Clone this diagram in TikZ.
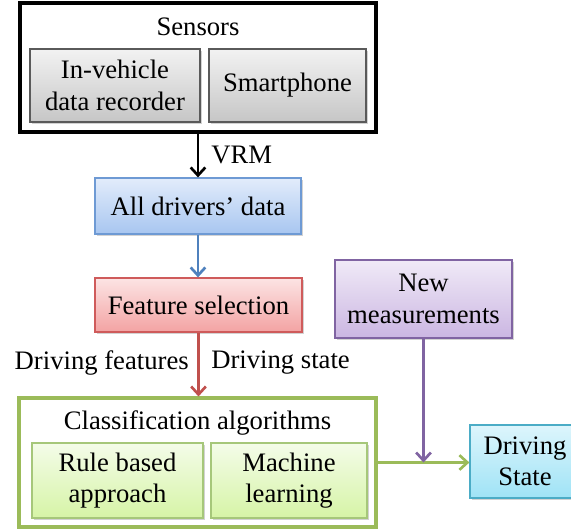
\documentclass[tikz,border=0pt]{standalone}
\usepackage{fontspec}
\setmainfont{Liberation Serif}
\usetikzlibrary{arrows.meta,shadows,calc}
\definecolor{grayT}{HTML}{F2F2F2}
\definecolor{grayB}{HTML}{C6C6C6}
\definecolor{grayD}{HTML}{5A5A5A}
\definecolor{blueT}{HTML}{E2ECFB}
\definecolor{blueB}{HTML}{A8C6F0}
\definecolor{blueD}{HTML}{6E9AD4}
\definecolor{blueA}{HTML}{4F81BD}
\definecolor{redT}{HTML}{FCE4E4}
\definecolor{redB}{HTML}{F3A3A3}
\definecolor{redD}{HTML}{CF5B5B}
\definecolor{redA}{HTML}{C0504D}
\definecolor{grnT}{HTML}{F4FCE9}
\definecolor{grnB}{HTML}{D6F4A6}
\definecolor{grnD}{HTML}{A6C77A}
\definecolor{grnA}{HTML}{9BBB59}
\definecolor{purT}{HTML}{F0EAF7}
\definecolor{purB}{HTML}{CBB6E2}
\definecolor{purA}{HTML}{8064A2}
\definecolor{cyaT}{HTML}{DDF5FC}
\definecolor{cyaB}{HTML}{9FE3F6}
\definecolor{cyaD}{HTML}{4BACC6}
\begin{document}
\begin{tikzpicture}[x=0.75pt,y=-0.75pt,
  every node/.style={font=\fontsize{20pt}{23.5pt}\selectfont, align=center},
  box/.style={rectangle, inner sep=0pt, line width=0.9pt,
    drop shadow={shadow xshift=1.2pt, shadow yshift=-1.2pt, opacity=0.35}},
  graybox/.style={box, draw=grayD, top color=grayT, bottom color=grayB},
  bluebox/.style={box, draw=blueD, top color=blueT, bottom color=blueB},
  redbox/.style={box, draw=redD, top color=redT, bottom color=redB},
  grnbox/.style={box, draw=grnD, top color=grnT, bottom color=grnB},
  purbox/.style={box, draw=purA, top color=purT, bottom color=purB},
  cyabox/.style={box, draw=cyaD, top color=cyaT, bottom color=cyaB},
  frame/.style={rectangle, inner sep=0pt, line width=2.3pt},
  lbl/.style={inner sep=0pt},
  arr/.style={line width=2.2pt, -{Straight Barb[length=6pt,width=11pt,line width=2pt]}}
]
\useasboundingbox (0,0) rectangle (571,530);
% Sensors group
\node[frame, draw=black, fill=white, minimum width=356*0.75pt, minimum height=129*0.75pt] (sens) at (198,67.5) {};
\node[lbl] (senst) at (198,27) {Sensors};
\node[graybox, minimum width=170*0.75pt, minimum height=73*0.75pt] (ivdr) at (115,85.5) {In-vehicle\\data recorder};
\node[graybox, minimum width=157*0.75pt, minimum height=73*0.75pt] (phone) at (287.5,85.5) {Smartphone};
% All drivers
\node[bluebox, minimum width=206*0.75pt, minimum height=56*0.75pt] (all) at (198,206) {All drivers' data};
% Feature selection
\node[redbox, minimum width=207*0.75pt, minimum height=54*0.75pt] (feat) at (198.5,305) {Feature selection};
% Classification group
\node[frame, draw=grnA, fill=white, minimum width=357*0.75pt, minimum height=129*0.75pt] (cls) at (197.5,462.5) {};
\node[lbl] (clst) at (197.5,423) {Classification algorithms};
\node[grnbox, minimum width=171*0.75pt, minimum height=75*0.75pt] (rule) at (117.5,480.5) {Rule based\\approach};
\node[grnbox, minimum width=156*0.75pt, minimum height=75*0.75pt] (ml) at (289,480.5) {Machine\\learning};
% New measurements
\node[purbox, minimum width=177*0.75pt, minimum height=78*0.75pt] (newm) at (423.5,299) {New\\measurements};
% Driving state
\node[cyabox, minimum width=110*0.75pt, minimum height=73*0.75pt] (ds) at (525,461.5) {Driving\\State};
% Labels
\node[lbl, anchor=west] (vrm) at (211,155) {VRM};
\node[lbl, anchor=east] (dfeat) at (189,363) {Driving features};
\node[lbl, anchor=west] (dstate) at (211,363) {Driving state};
% Connectors
\draw[arr, black] (sens.south) -- (all.north);
\draw[arr, blueA] (all.south) -- (all.south |- feat.north);
\draw[arr, redA] (feat.south) -- (feat.south |- cls.north);
\draw[arr, grnA] (cls.east) -- (cls.east -| ds.west);
\coordinate (j) at (newm.south |- cls.east);
\draw[arr, purA] (newm.south) -- (j);
\end{tikzpicture}
\end{document}
